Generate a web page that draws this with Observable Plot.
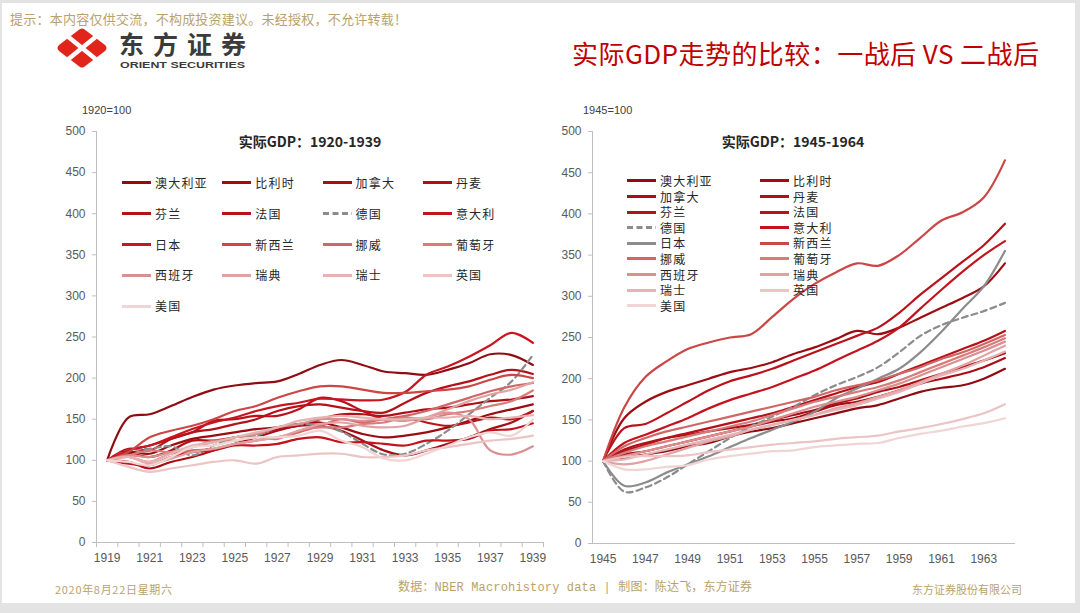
<!DOCTYPE html>
<html><head><meta charset="utf-8">
<script src="https://cdn.jsdelivr.net/npm/d3@7"></script>
<script src="https://cdn.jsdelivr.net/npm/@observablehq/plot@0.6"></script>
<style>
html,body{margin:0;padding:0}
body{width:1080px;height:613px;background:#e3e3e3;overflow:hidden;position:relative;font-family:"Noto Sans CJK SC","Noto Sans",sans-serif}
#slide{position:absolute;left:2px;top:3px;width:1073px;height:600px;background:#fff}
.abs{position:absolute}
.legend{position:absolute;display:grid;align-items:center}
.item{display:flex;align-items:center;gap:4px;white-space:nowrap}
.item span{font-size:12px;letter-spacing:1.2px;color:#262626;line-height:1}
.ctitle{position:absolute;font-weight:bold;font-size:14px;color:#262626;transform:translateX(-50%);white-space:nowrap;line-height:1}
.base{position:absolute;font-family:"Liberation Sans",Arial,sans-serif;font-size:11px;color:#404040;line-height:1}
</style></head>
<body>
<div id="slide"></div>

<svg class="abs" style="left:0;top:0" width="1080" height="120">
  <text x="10" y="24" font-size="13" fill="#B9A26B" font-family="Liberation Mono, Noto Sans CJK SC" textLength="397" lengthAdjust="spacing">提示：本内容仅供交流，不构成投资建议。未经授权，不允许转载！</text>
  <g transform="translate(54,28)">
    <path d="M26,1 Q28,0 30,1 L51,17 Q54,20 51,23 L30,39 Q28,40 26,39 L5,23 Q2,20 5,17 Z" fill="#E1251B"/>
    <line x1="12" y1="7" x2="44" y2="33" stroke="#fff" stroke-width="4.5" stroke-linecap="round"/>
    <line x1="44" y1="7" x2="12" y2="33" stroke="#fff" stroke-width="4.5" stroke-linecap="round"/>
  </g>
  <text x="119" y="54" font-size="25" font-weight="bold" fill="#3b3b3b" textLength="127" lengthAdjust="spacing">东方证券</text>
  <text x="120" y="68" font-size="9.5" font-weight="bold" fill="#3b3b3b" font-family="Liberation Sans, Arial" textLength="125" lengthAdjust="spacingAndGlyphs">ORIENT SECURITIES</text>
  <text x="572" y="64" font-size="26" fill="#C00000" textLength="467" lengthAdjust="spacing">实际GDP走势的比较：一战后 VS 二战后</text>
</svg>

<div class="base" style="left:82px;top:105px">1920=100</div>
<div class="base" style="left:583px;top:105px">1945=100</div>

<div id="chartL" class="abs" style="left:0;top:0"></div>
<div id="chartR" class="abs" style="left:540px;top:0"></div>

<div class="ctitle" style="left:310px;top:134px">实际GDP：1920-1939</div>
<div class="ctitle" style="left:793px;top:134px">实际GDP：1945-1964</div>

<div id="legendL" class="legend" style="left:122px;top:167.6px;grid-template-columns:repeat(4,100.3px);grid-auto-rows:30.8px"></div>
<div id="legendR" class="legend" style="left:627px;top:173.2px;grid-template-columns:repeat(2,133px);grid-auto-rows:15.6px"></div>

<svg class="abs" style="left:0;top:570px" width="1080" height="40">
  <text x="55" y="24" font-size="11" fill="#B9A26B" textLength="117" lengthAdjust="spacing">2020年8月22日星期六</text>
  <text x="398" y="21" font-size="12" fill="#B9A26B" font-family="Liberation Mono, Noto Sans CJK SC" textLength="354" lengthAdjust="spacing">数据：NBER Macrohistory data | 制图：陈达飞，东方证券</text>
  <text x="912" y="24" font-size="11" fill="#B9A26B" textLength="110" lengthAdjust="spacing">东方证券股份有限公司</text>
</svg>

<script>
// ---------- categories ----------
const countries = ["澳大利亚","比利时","加拿大","丹麦","芬兰","法国","德国","意大利","日本","新西兰","挪威","葡萄牙","西班牙","瑞典","瑞士","英国","美国"];
const colorsLeft  = ["#8E0C12","#9C0D13","#A80E16","#AF1018","#B51119","#BA121B","#8C8C8C","#C3131E","#C8151F","#CC4646","#D16666","#D67C7C","#DB9090","#E0A2A2","#E6B4B4","#ECC4C4","#F1D4D4"];
const colorsRight = ["#8E0C12","#9C0D13","#A80E16","#AF1018","#B51119","#BA121B","#8C8C8C","#C3131E","#8C8C8C","#CC4646","#D16666","#D67C7C","#DB9090","#E0A2A2","#E6B4B4","#ECC4C4","#F1D4D4"];
const dashedLeft  = [0,0,0,0,0,0,1,0,0,0,0,0,0,0,0,0,0];
const dashedRight = [0,0,0,0,0,0,1,0,0,0,0,0,0,0,0,0,0];

const yearsL = [1919,1920,1921,1922,1923,1924,1925,1926,1927,1928,1929,1930,1931,1932,1933,1934,1935,1936,1937,1938,1939];
const yearsR = [1945,1946,1947,1948,1949,1950,1951,1952,1953,1954,1955,1956,1957,1958,1959,1960,1961,1962,1963,1964];
const xLabelsL = [1919,1921,1923,1925,1927,1929,1931,1933,1935,1937,1939];
const xLabelsR = [1945,1947,1949,1951,1953,1955,1957,1959,1961,1963];
const yTicks = [0,50,100,150,200,250,300,350,400,450,500];

// ---------- 1920-1939 (1920=100) ----------
const AUS_L = [100,152,156,166,177,186,191,194,196,205,216,222,216,208,206,204,210,218,229,228,216];
const BEL_L = [100,110,108,118,126,130,134,138,140,144,146,140,132,128,130,134,140,148,156,162,168];
const CAN_L = [100,98,90,98,104,112,120,128,136,142,142,136,124,112,106,112,120,128,138,146,160];
const DEN_L = [100,108,104,112,124,124,128,132,138,142,150,156,156,154,158,162,164,168,172,174,178];
const FIN_L = [100,112,118,126,134,138,144,150,160,166,168,164,160,158,170,182,190,196,204,210,205];
const FRA_L = [100,114,112,126,134,148,150,154,154,162,176,172,160,150,152,146,142,146,152,150,160];
const GER_L = [100,112,114,117,106,118,128,130,140,144,142,135,120,107,108,120,136,156,176,196,228];
const ITA_L = [100,96,94,104,110,112,118,118,120,126,128,122,122,120,118,124,124,126,136,138,145];
const JPN_L = [100,112,118,128,138,146,152,160,166,170,175,174,173,174,183,204,214,226,240,255,243];
const NZL_L = [100,110,128,136,142,150,160,166,176,184,190,190,186,182,182,184,186,190,198,204,200];
const NOR_L = [100,104,98,108,112,114,120,124,128,134,142,150,146,150,154,160,168,176,184,190,194];
const POR_L = [100,106,112,110,116,124,124,128,126,136,140,140,144,146,152,150,156,160,166,172,185];
const ESP_L = [100,106,104,110,116,122,128,132,140,144,150,150,148,150,148,152,158,150,112,107,117];
const SWE_L = [100,104,96,102,110,114,120,124,128,136,144,146,142,140,142,152,162,172,180,186,195];
const SUI_L = [100,104,98,108,118,122,128,134,140,148,152,154,152,150,150,152,152,154,150,152,155];
const GBR_L = [100,92,86,90,94,98,100,96,104,106,108,108,104,104,106,112,116,120,124,126,130];
const USA_L = [100,98,94,104,116,118,124,128,128,130,136,124,116,102,100,108,118,128,134,130,150];

// ---------- 1945-1964 (1945=100) ----------
const AUS_R = [100,104,108,112,118,122,130,136,140,146,152,158,164,168,176,184,189,192,200,212];
const BEL_R = [100,152,172,184,192,200,208,213,220,230,238,248,258,254,262,274,286,298,312,340];
const CAN_R = [100,108,112,118,124,130,136,142,148,152,160,168,172,178,186,194,200,206,214,225];
const DEN_R = [100,114,122,128,132,136,140,144,150,156,162,170,176,184,190,198,206,214,222,231];
const FIN_R = [100,112,120,128,134,140,146,152,158,166,174,182,190,196,206,216,226,236,246,258];
const FRA_R = [100,140,145,158,172,186,197,204,212,222,232,242,252,262,280,302,322,342,362,388];
const GER_R = [100,63,68,80,96,112,128,142,154,166,180,192,202,214,232,252,265,274,282,292];
const ITA_R = [100,122,132,142,152,164,174,182,190,200,210,222,234,246,262,285,308,330,350,367];
const JPN_R = [100,70,74,86,96,106,117,128,138,148,160,176,188,200,212,232,257,285,312,355];
const NZL_R = [100,165,202,221,236,244,250,254,275,297,315,329,340,337,350,371,392,402,420,465];
const NOR_R = [100,118,128,136,142,148,154,160,166,172,178,186,192,198,206,214,224,232,242,253];
const POR_R = [100,110,118,124,130,136,142,148,156,164,172,178,184,190,198,208,218,228,238,249];
const ESP_R = [100,106,112,118,124,130,136,142,150,158,166,172,178,186,194,204,214,224,234,245];
const SWE_R = [100,96,100,108,116,124,130,138,144,150,156,164,170,178,186,196,206,216,228,240];
const SUI_R = [100,102,108,114,120,126,132,138,144,150,156,162,168,176,184,194,204,212,222,233];
const GBR_R = [100,105,106,106,107,111,114,117,120,122,124,127,129,131,136,140,145,151,158,169];
const USA_R = [100,90,90,93,95,102,106,109,112,113,117,119,121,122,128,133,137,142,146,152];

const seriesL = [AUS_L,BEL_L,CAN_L,DEN_L,FIN_L,FRA_L,GER_L,ITA_L,JPN_L,NZL_L,NOR_L,POR_L,ESP_L,SWE_L,SUI_L,GBR_L,USA_L];
const seriesR = [AUS_R,BEL_R,CAN_R,DEN_R,FIN_R,FRA_R,GER_R,ITA_R,JPN_R,NZL_R,NOR_R,POR_R,ESP_R,SWE_R,SUI_R,GBR_R,USA_R];

const AXIS = "#bfbfbf", LABEL = "#595959";

function lineMarks(years, series, colors, dashed) {
  return series.map((vals, i) => Plot.line(
    years.map((yr, j) => ({year: yr, value: vals[j], country: countries[i]})),
    {x: "year", y: "value", stroke: colors[i], strokeWidth: 2.2, curve: "catmull-rom",
     strokeDasharray: dashed[i] ? "6,4" : undefined}
  ));
}

function chart(years, xLabels, series, colors, dashed, opts) {
  const x0 = years[0] - 0.5, x1 = years[years.length - 1] + 0.5;
  const marks = [
    Plot.axisY({ticks: yTicks, tickSize: 4, tickPadding: 7, stroke: AXIS, fill: LABEL, label: null}),
    Plot.axisX({ticks: xLabels, tickSize: 0, tickPadding: 11, fill: LABEL, label: null, tickFormat: d => String(d)}),
  ];
  if (opts.xTicks) {
    marks.push(Plot.axisX({ticks: years.map(y => y - 0.5).concat([x1]), tickSize: 5, stroke: AXIS, tickFormat: () => "", label: null}));
  }
  marks.push(Plot.ruleY([0], {stroke: AXIS}));
  marks.push(Plot.ruleX([x0], {stroke: AXIS}));
  marks.push(...lineMarks(years, series, colors, dashed));
  return Plot.plot({
    width: opts.width, height: 613,
    marginLeft: opts.ml, marginRight: opts.mr, marginTop: 131, marginBottom: opts.mb,
    style: {background: "transparent", fontFamily: "'Liberation Sans', Arial, sans-serif", fontSize: "12px", overflow: "visible"},
    x: {domain: [x0, x1]},
    y: {domain: [0, 500]},
    marks
  });
}

document.getElementById("chartL").appendChild(
  chart(yearsL, xLabelsL, seriesL, colorsLeft, dashedLeft, {width: 560, ml: 96, mr: 17, mb: 71, xTicks: true}));
document.getElementById("chartR").appendChild(
  chart(yearsR, xLabelsR, seriesR, colorsRight, dashedRight, {width: 540, ml: 52, mr: 65, mb: 70, xTicks: false}));

function buildLegend(id, colors, dashed) {
  const el = document.getElementById(id);
  countries.forEach((c, i) => {
    const item = document.createElement("div");
    item.className = "item";
    item.innerHTML = `<svg width="29" height="5"><line x1="0" x2="29" y1="2.5" y2="2.5" stroke="${colors[i]}" stroke-width="3"${dashed[i] ? ' stroke-dasharray="6,3.5"' : ''}/></svg><span>${c}</span>`;
    el.appendChild(item);
  });
}
buildLegend("legendL", colorsLeft, dashedLeft);
buildLegend("legendR", colorsRight, dashedRight);
</script>
</body></html>
